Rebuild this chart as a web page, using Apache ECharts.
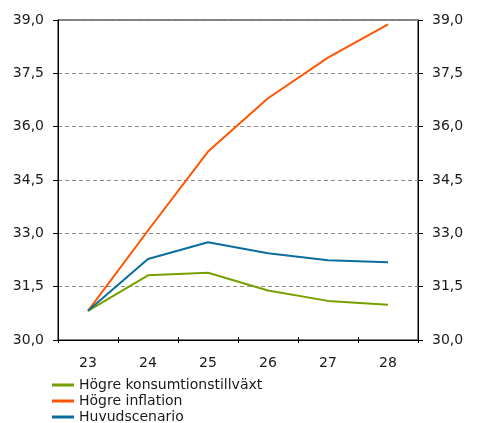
<!DOCTYPE html>
<html><head><meta charset="utf-8">
<script src="https://cdn.jsdelivr.net/npm/echarts@6/dist/echarts.min.js"></script>
<style>html,body{margin:0;padding:0;background:#fff}#c{width:478px;height:423px}</style>
</head><body><div id="c"></div>
<script>
const categories = ['23','24','25','26','27','28'];
const seriesNames = ['Högre konsumtionstillväxt','Högre inflation','Huvudscenario'];
const konsumtion = [30.82, 31.82, 31.89, 31.39, 31.10, 30.99];
const inflation = [30.82, 33.08, 35.30, 36.80, 37.94, 38.88];
const huvud = [30.82, 32.28, 32.75, 32.44, 32.24, 32.19];
const yTicks = [30.0, 31.5, 33.0, 34.5, 36.0, 37.5, 39.0];
const colors = ['#76a000', '#ff5500', '#0a6e9c'];

const font = 'DejaVu Sans, Verdana, sans-serif';
const fmt = v => v.toFixed(1).replace('.', ',');
const yBase = {
  type: 'value', min: yTicks[0], max: yTicks[yTicks.length-1], interval: 1.5,
  axisLine: {show: true, lineStyle: {color: '#000', width: 1}},
  axisTick: {show: true, inside: false, length: 5, lineStyle: {color: '#000'}},
  axisLabel: {formatter: fmt, color: '#1a1a1a', fontFamily: font, fontSize: 14, margin: 14}
};
const chart = echarts.init(document.getElementById('c'), null, {renderer: 'canvas'});
chart.setOption({
  animation: false,
  grid: {left: 58, right: 60, top: 20, bottom: 83, show: true, borderColor: '#000', borderWidth: 1},
  legend: {
    orient: 'vertical', left: 52, top: 378, height: 80, padding: 0, itemWidth: 22, itemHeight: 3, itemGap: 2, icon: 'rect',
    data: seriesNames,
    textStyle: {fontFamily: font, fontSize: 14, color: '#1a1a1a', lineHeight: 14}
  },
  xAxis: [
    {type: 'category', data: categories, boundaryGap: true, position: 'bottom',
     axisLine: {lineStyle: {color: '#000'}},
     axisTick: {show: true, inside: false, length: 3, lineStyle: {color: '#000'}},
     axisLabel: {color: '#1a1a1a', fontFamily: font, fontSize: 14, margin: 16}},
    {type: 'category', data: categories, boundaryGap: true, position: 'bottom',
     axisLine: {show: false},
     axisTick: {show: true, inside: true, length: 3, lineStyle: {color: '#000'}},
     axisLabel: {show: false}}
  ],
  yAxis: [
    Object.assign({}, yBase, {position: 'left',
      splitLine: {show: true, lineStyle: {color: '#8c8c8c', type: [4, 3], width: 1}}}),
    Object.assign({}, yBase, {position: 'right', splitLine: {show: false}})
  ],
  series: [
    {name: seriesNames[0], type: 'line', data: konsumtion, showSymbol: false, symbol: 'none', lineStyle: {width: 2, color: colors[0]}, itemStyle: {color: colors[0]}},
    {name: seriesNames[1], type: 'line', data: inflation, showSymbol: false, symbol: 'none', lineStyle: {width: 2, color: colors[1]}, itemStyle: {color: colors[1]}},
    {name: seriesNames[2], type: 'line', data: huvud, showSymbol: false, symbol: 'none', lineStyle: {width: 2, color: colors[2]}, itemStyle: {color: colors[2]}}
  ]
});
</script></body></html>
